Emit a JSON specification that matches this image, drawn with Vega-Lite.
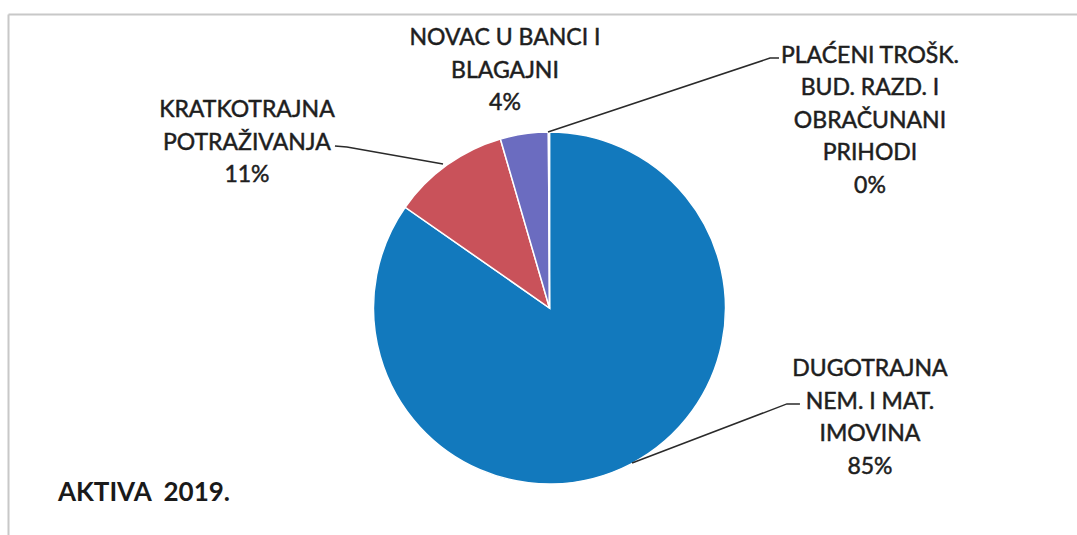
{
  "$schema": "https://vega.github.io/schema/vega-lite/v6.json",
  "width": 1069,
  "height": 521,
  "autosize": {"type": "none"},
  "padding": {"left": 8, "top": 14, "right": 0, "bottom": 0},
  "background": "white",
  "config": {
    "view": {"stroke": null},
    "axis": {"labels": false, "ticks": false, "grid": false, "title": null, "domainColor": "#c8c8c8", "domainWidth": 2}
  },
  "datasets": {
    "slices": [
      {"kategorija": "DUGOTRAJNA NEM. I MAT. IMOVINA", "udio": 84.7, "redoslijed": 1},
      {"kategorija": "KRATKOTRAJNA POTRAŽIVANJA", "udio": 10.8, "redoslijed": 2},
      {"kategorija": "NOVAC U BANCI I BLAGAJNI", "udio": 4.4, "redoslijed": 3},
      {"kategorija": "PLAĆENI TROŠK. BUD. RAZD. I OBRAČUNANI PRIHODI", "udio": 0.1, "redoslijed": 4}
    ],
    "labels": [
      {"tekst": "KRATKOTRAJNA\nPOTRAŽIVANJA\n11%", "lx": -1.719, "ly": 1.125},
      {"tekst": "NOVAC U BANCI I\nBLAGAJNI\n4%", "lx": -0.253, "ly": 1.534},
      {"tekst": "PLAĆENI TROŠK.\nBUD. RAZD. I\nOBRAČUNANI\nPRIHODI\n0%", "lx": 1.821, "ly": 1.432},
      {"tekst": "DUGOTRAJNA\nNEM. I MAT.\nIMOVINA\n85%", "lx": 1.821, "ly": -0.347}
    ],
    "leaders": [
      {"g": "k", "o": 1, "lx": -1.219, "ly": 0.920},
      {"g": "k", "o": 2, "lx": -1.151, "ly": 0.915},
      {"g": "k", "o": 3, "lx": -0.605, "ly": 0.818},
      {"g": "p", "o": 1, "lx": -0.0085, "ly": 1.0},
      {"g": "p", "o": 2, "lx": 1.253, "ly": 1.420},
      {"g": "p", "o": 3, "lx": 1.304, "ly": 1.420},
      {"g": "d", "o": 1, "lx": 0.469, "ly": -0.881},
      {"g": "d", "o": 2, "lx": 1.349, "ly": -0.545},
      {"g": "d", "o": 3, "lx": 1.423, "ly": -0.545}
    ],
    "title": [
      {"tekst": "AKTIVA\u00a0\u00a02019.", "lx": -2.793, "ly": -1.051}
    ]
  },
  "layer": [
    {
      "data": {"name": "slices"},
      "mark": {"type": "arc", "outerRadius": 176, "stroke": "white", "strokeWidth": 1.5},
      "encoding": {
        "x": {"datum": 0, "type": "quantitative", "scale": {"domain": [-3.0767, 2.9972], "nice": false, "zero": false}, "axis": {"orient": "top"}},
        "y": {"datum": 0, "type": "quantitative", "scale": {"domain": [-1.2898, 1.6705], "nice": false, "zero": false}, "axis": {"orient": "left"}},
        "theta": {"field": "udio", "type": "quantitative", "stack": true},
        "order": {"field": "redoslijed", "type": "quantitative"},
        "color": {
          "field": "kategorija", "type": "nominal", "legend": null,
          "scale": {
            "domain": ["DUGOTRAJNA NEM. I MAT. IMOVINA", "KRATKOTRAJNA POTRAŽIVANJA", "NOVAC U BANCI I BLAGAJNI", "PLAĆENI TROŠK. BUD. RAZD. I OBRAČUNANI PRIHODI"],
            "range": ["#1279bd", "#c9525a", "#6b6cc0", "#9bbb59"]
          }
        }
      }
    },
    {
      "data": {"name": "leaders"},
      "mark": {"type": "line", "color": "#2a2a2a", "strokeWidth": 1.5},
      "encoding": {
        "x": {"field": "lx", "type": "quantitative", "scale": {"domain": [-3.0767, 2.9972], "nice": false, "zero": false}},
        "y": {"field": "ly", "type": "quantitative", "scale": {"domain": [-1.2898, 1.6705], "nice": false, "zero": false}},
        "detail": {"field": "g", "type": "nominal"},
        "order": {"field": "o", "type": "quantitative"}
      }
    },
    {
      "data": {"name": "labels"},
      "mark": {"type": "text", "font": "Lato", "fontSize": 23, "lineHeight": 32.5, "lineBreak": "\n", "align": "center", "baseline": "middle", "color": "#1e1e1e", "stroke": "#1e1e1e", "strokeWidth": 0.5},
      "encoding": {
        "x": {"field": "lx", "type": "quantitative", "scale": {"domain": [-3.0767, 2.9972], "nice": false, "zero": false}},
        "y": {"field": "ly", "type": "quantitative", "scale": {"domain": [-1.2898, 1.6705], "nice": false, "zero": false}},
        "text": {"field": "tekst", "type": "nominal"}
      }
    },
    {
      "data": {"name": "title"},
      "mark": {"type": "text", "font": "Lato", "fontSize": 26, "fontWeight": "bold", "align": "left", "baseline": "middle", "color": "#1a1a1a"},
      "encoding": {
        "x": {"field": "lx", "type": "quantitative", "scale": {"domain": [-3.0767, 2.9972], "nice": false, "zero": false}},
        "y": {"field": "ly", "type": "quantitative", "scale": {"domain": [-1.2898, 1.6705], "nice": false, "zero": false}},
        "text": {"field": "tekst", "type": "nominal"}
      }
    }
  ]
}
